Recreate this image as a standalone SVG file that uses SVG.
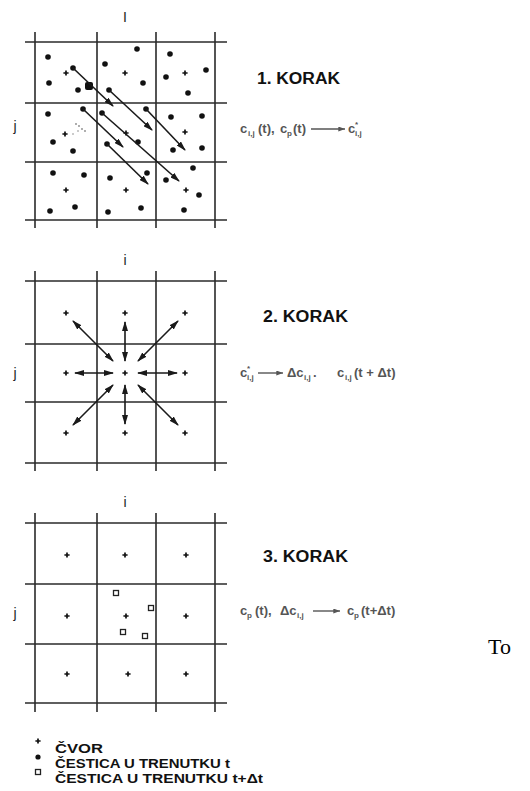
<svg xmlns="http://www.w3.org/2000/svg" xmlns:xlink="http://www.w3.org/1999/xlink" width="530" height="791" viewBox="0 0 530 791">
<style>
.grid line{stroke:#2a2a2a;stroke-width:1.6}
.lbl{font-family:"Liberation Sans",Arial,sans-serif;font-size:14px;fill:#222}
.step{font-family:"Liberation Sans",Arial,sans-serif;font-size:16px;font-weight:bold;fill:#111}
.f{font-family:"Liberation Sans",Arial,sans-serif;font-size:13px;font-weight:bold;fill:#555}
.s{font-size:8px}
.leg{font-family:"Liberation Sans",Arial,sans-serif;font-size:13.5px;font-weight:bold;fill:#111}
.arr{stroke:#1a1a1a;stroke-width:1.6;fill:none}
.sq{fill:none;stroke:#222;stroke-width:1.3}
</style>
<defs>
<path id="plus" d="M-2.6,0H2.6M0,-2.6V2.6" stroke="#111" stroke-width="1.7"/>
<circle id="dt" r="2.8" fill="#111"/>
<marker id="ah" viewBox="0 0 10 6" refX="9" refY="3" markerWidth="10" markerHeight="6" markerUnits="userSpaceOnUse" orient="auto-start-reverse"><path d="M0,0L10,3L0,6z" fill="#1a1a1a"/></marker>
<marker id="fa" viewBox="0 0 8 6" refX="8" refY="3" markerWidth="7" markerHeight="5" markerUnits="userSpaceOnUse" orient="auto"><path d="M0,0L8,3L0,6z" fill="#555"/></marker>
</defs>
<rect width="530" height="791" fill="#fff"/>

<!-- STEP 1 -->
<g id="step1">
<g class="grid">
<line x1="25" y1="42" x2="227" y2="42"/><line x1="25" y1="103" x2="227" y2="103"/><line x1="25" y1="162" x2="227" y2="162"/><line x1="25" y1="220" x2="227" y2="220"/>
<line x1="35" y1="32" x2="35" y2="228"/><line x1="97" y1="32" x2="97" y2="228"/><line x1="156" y1="32" x2="156" y2="228"/><line x1="215" y1="32" x2="215" y2="228"/>
</g>
<text class="lbl" x="125" y="22" text-anchor="middle">I</text>
<text class="lbl" x="15" y="131" text-anchor="middle" font-size="15">j</text>
<g id="nodes1">
<use href="#plus" x="66" y="73"/><use href="#plus" x="125" y="73"/><use href="#plus" x="185" y="73"/>
<use href="#plus" x="65" y="134"/><use href="#plus" x="126" y="133"/><use href="#plus" x="185" y="132"/>
<use href="#plus" x="66" y="190"/><use href="#plus" x="126" y="190"/><use href="#plus" x="186" y="190"/>
</g>
<g id="particles1">
<use href="#dt" x="48" y="57"/><use href="#dt" x="49" y="83"/><use href="#dt" x="73" y="68"/><use href="#dt" x="78" y="90"/>
<rect x="85" y="82" width="8" height="8" rx="2" fill="#111"/>
<use href="#dt" x="137" y="49"/><use href="#dt" x="105" y="64"/><use href="#dt" x="143" y="83"/><use href="#dt" x="109" y="90"/>
<use href="#dt" x="170" y="54"/><use href="#dt" x="206" y="70"/><use href="#dt" x="166" y="77"/><use href="#dt" x="188" y="93"/>
<use href="#dt" x="48" y="114"/><use href="#dt" x="83" y="109"/><use href="#dt" x="53" y="142"/><use href="#dt" x="73" y="151"/>
<use href="#dt" x="102" y="113"/><use href="#dt" x="146" y="109"/><use href="#dt" x="107" y="144"/><use href="#dt" x="138" y="142"/>
<use href="#dt" x="171" y="117"/><use href="#dt" x="202" y="116"/><use href="#dt" x="173" y="150"/><use href="#dt" x="202" y="148"/>
<use href="#dt" x="53" y="173"/><use href="#dt" x="84" y="175"/><use href="#dt" x="50" y="211"/><use href="#dt" x="75" y="207"/>
<use href="#dt" x="110" y="178"/><use href="#dt" x="147" y="173"/><use href="#dt" x="108" y="212"/><use href="#dt" x="141" y="208"/>
<use href="#dt" x="166" y="180"/><use href="#dt" x="193" y="168"/><use href="#dt" x="199" y="195"/><use href="#dt" x="184" y="210"/>
</g>
<g fill="#888">
<circle cx="76" cy="124" r="0.9"/><circle cx="79" cy="126" r="0.9"/><circle cx="82" cy="129" r="0.9"/><circle cx="85" cy="131" r="0.9"/><circle cx="78" cy="131" r="0.8"/><circle cx="73" cy="134" r="0.8"/>
</g>
<text class="step" x="257" y="84" textLength="83" lengthAdjust="spacingAndGlyphs">1. KORAK</text>
<text class="f" y="133"><tspan x="240">c</tspan><tspan class="s" x="248" y="136">i,j</tspan><tspan x="258" y="133">(t),</tspan><tspan x="280">c</tspan><tspan class="s" x="287" y="136">p</tspan><tspan x="293" y="133">(t)</tspan><tspan x="348">c</tspan><tspan class="s" x="355" y="127">*</tspan><tspan class="s" x="355" y="136">i,j</tspan></text>
<line x1="311" y1="129" x2="345" y2="129" stroke="#555" stroke-width="1.4" marker-end="url(#fa)"/>
</g>

<!-- STEP 2 -->
<g id="step2">
<g class="grid">
<line x1="25" y1="281" x2="227" y2="281"/><line x1="25" y1="344" x2="227" y2="344"/><line x1="25" y1="402" x2="227" y2="402"/><line x1="25" y1="463" x2="227" y2="463"/>
<line x1="35" y1="271" x2="35" y2="471"/><line x1="97" y1="271" x2="97" y2="471"/><line x1="156" y1="271" x2="156" y2="471"/><line x1="215" y1="271" x2="215" y2="471"/>
</g>
<text class="lbl" x="125" y="265" text-anchor="middle">i</text>
<text class="lbl" x="15" y="378" text-anchor="middle" font-size="15">j</text>
<g id="nodes2">
<use href="#plus" x="66" y="313"/><use href="#plus" x="125" y="313"/><use href="#plus" x="185" y="313"/>
<use href="#plus" x="66" y="373"/><use href="#plus" x="125" y="373"/><use href="#plus" x="185" y="373"/>
<use href="#plus" x="66" y="433"/><use href="#plus" x="125" y="433"/><use href="#plus" x="185" y="433"/>
</g>
<text class="step" x="263" y="322" textLength="85" lengthAdjust="spacingAndGlyphs">2. KORAK</text>
<text class="f" y="377"><tspan x="240">c</tspan><tspan class="s" x="247" y="371">*</tspan><tspan class="s" x="247" y="380">i,j</tspan><tspan x="287" y="377">Δc</tspan><tspan class="s" x="304" y="380">i,j</tspan><tspan x="313" y="377">.</tspan><tspan x="337">c</tspan><tspan class="s" x="345" y="380">i,j</tspan><tspan x="354" y="377">(t + Δt)</tspan></text>
<line x1="258" y1="373" x2="283" y2="373" stroke="#555" stroke-width="1.4" marker-end="url(#fa)"/>
</g>

<!-- STEP 3 -->
<g id="step3">
<g class="grid">
<line x1="25" y1="523" x2="227" y2="523"/><line x1="25" y1="584" x2="227" y2="584"/><line x1="25" y1="644" x2="227" y2="644"/><line x1="25" y1="703" x2="227" y2="703"/>
<line x1="35" y1="513" x2="35" y2="712"/><line x1="97" y1="513" x2="97" y2="712"/><line x1="156" y1="513" x2="156" y2="712"/><line x1="215" y1="513" x2="215" y2="712"/>
</g>
<text class="lbl" x="125" y="507" text-anchor="middle">i</text>
<text class="lbl" x="15" y="618" text-anchor="middle" font-size="15">j</text>
<g id="nodes3">
<use href="#plus" x="67" y="555"/><use href="#plus" x="125" y="555"/><use href="#plus" x="186" y="555"/>
<use href="#plus" x="67" y="616"/><use href="#plus" x="126" y="616"/><use href="#plus" x="186" y="616"/>
<use href="#plus" x="67" y="674"/><use href="#plus" x="128" y="674"/><use href="#plus" x="186" y="674"/>
</g>
<g id="particles3">
<rect class="sq" x="113.5" y="590.5" width="5" height="5"/><rect class="sq" x="148.5" y="605.5" width="5" height="5"/>
<rect class="sq" x="120.5" y="629.5" width="5" height="5"/><rect class="sq" x="142.5" y="633.5" width="5" height="5"/>
</g>
<text class="step" x="263" y="562" textLength="85" lengthAdjust="spacingAndGlyphs">3. KORAK</text>
<text class="f" y="615"><tspan x="240">c</tspan><tspan class="s" x="247" y="618">p</tspan><tspan x="255" y="615">(t),</tspan><tspan x="280">Δc</tspan><tspan class="s" x="297" y="618">i,j</tspan><tspan x="347" y="615">c</tspan><tspan class="s" x="354" y="618">p</tspan><tspan x="361" y="615">(t+Δt)</tspan></text>
<line x1="313" y1="611" x2="340" y2="611" stroke="#555" stroke-width="1.4" marker-end="url(#fa)"/>
</g>

<!-- connectors -->
<g id="connectors" class="arr">
<line x1="73" y1="68" x2="113" y2="106" marker-end="url(#ah)"/>
<line x1="109" y1="90" x2="152" y2="130" marker-end="url(#ah)"/>
<line x1="146" y1="109" x2="185" y2="150" marker-end="url(#ah)"/>
<line x1="83" y1="109" x2="123" y2="147" marker-end="url(#ah)"/>
<line x1="102" y1="113" x2="179" y2="181" marker-end="url(#ah)"/>
<line x1="107" y1="144" x2="148" y2="184" marker-end="url(#ah)"/>

<line x1="125" y1="322" x2="125" y2="361" marker-start="url(#ah)" marker-end="url(#ah)"/>
<line x1="125" y1="385" x2="125" y2="424" marker-start="url(#ah)" marker-end="url(#ah)"/>
<line x1="75" y1="373" x2="113" y2="373" marker-start="url(#ah)" marker-end="url(#ah)"/>
<line x1="138" y1="373" x2="177" y2="373" marker-start="url(#ah)" marker-end="url(#ah)"/>
<line x1="73" y1="321" x2="113" y2="361" marker-start="url(#ah)" marker-end="url(#ah)"/>
<line x1="178" y1="321" x2="138" y2="361" marker-start="url(#ah)" marker-end="url(#ah)"/>
<line x1="73" y1="425" x2="113" y2="385" marker-start="url(#ah)" marker-end="url(#ah)"/>
<line x1="178" y1="425" x2="138" y2="385" marker-start="url(#ah)" marker-end="url(#ah)"/>
</g>

<!-- legend -->
<g id="legend">
<use href="#plus" x="38" y="741"/>
<circle cx="38" cy="757" r="2.6" fill="#111"/>
<rect class="sq" x="35.5" y="769.5" width="5" height="5"/>
<text class="leg" x="55" y="753" textLength="48" lengthAdjust="spacingAndGlyphs">ČVOR</text>
<text class="leg" x="55" y="768" textLength="175" lengthAdjust="spacingAndGlyphs">ČESTICA U TRENUTKU t</text>
<text class="leg" x="55" y="783" textLength="208" lengthAdjust="spacingAndGlyphs">ČESTICA U TRENUTKU t+Δt</text>
</g>

<text x="488" y="654" font-family="'Liberation Serif','Times New Roman',serif" font-size="22" fill="#000">To</text>
</svg>
